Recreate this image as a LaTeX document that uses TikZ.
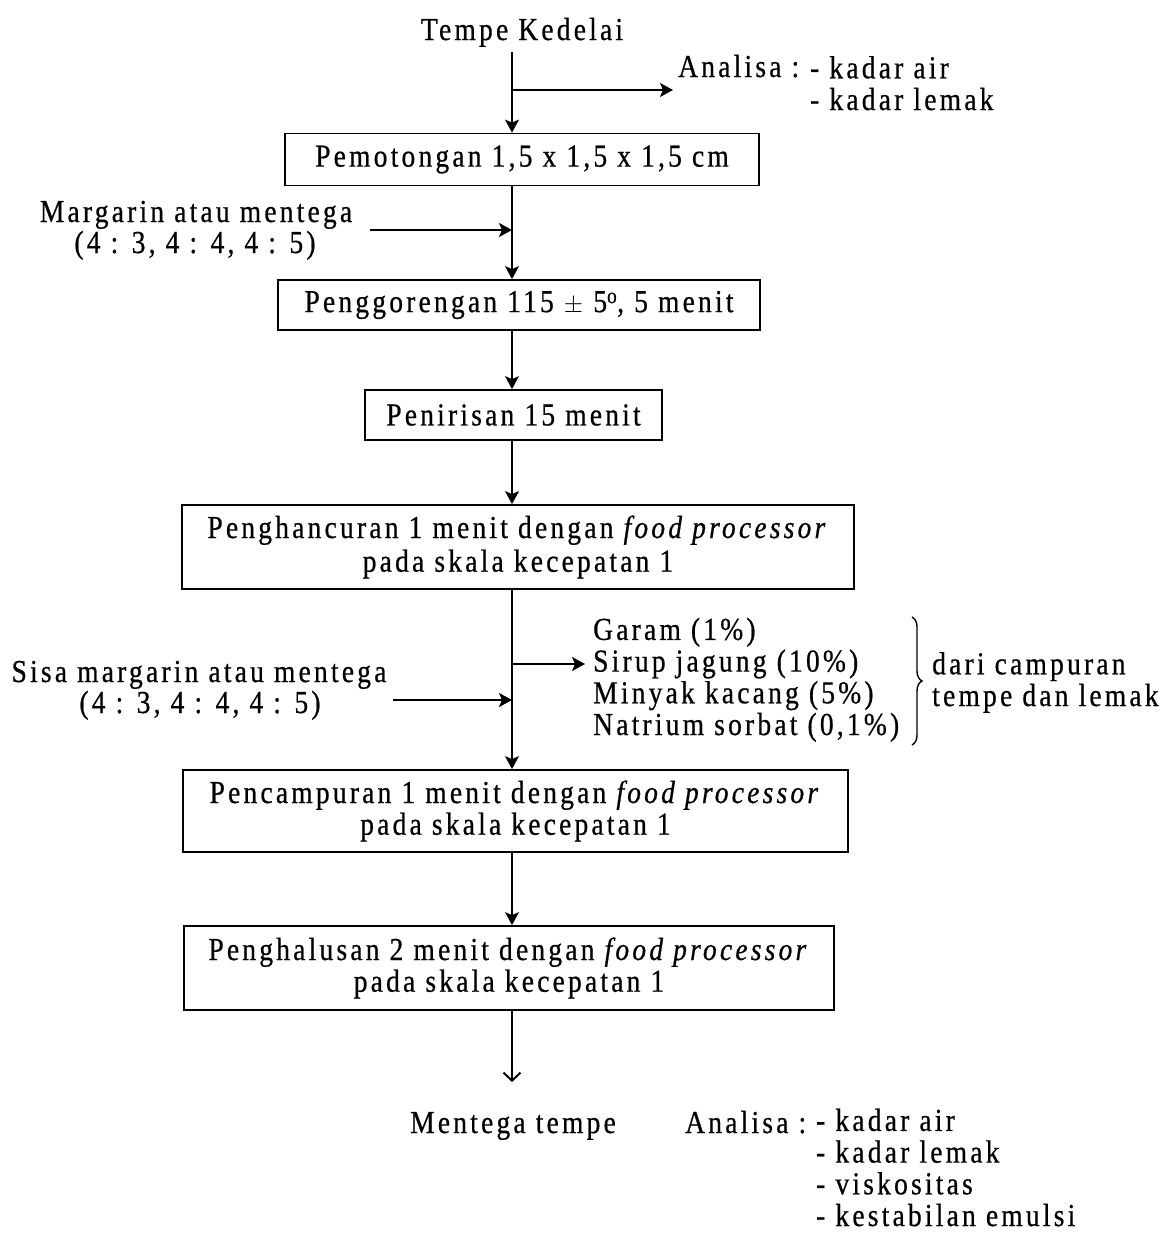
\documentclass[tikz,border=0pt]{standalone}
\usepackage{fontspec}
\setmainfont{Liberation Serif}[FakeStretch=0.86,LetterSpace=10,FakeBold=0.6]
\usetikzlibrary{arrows.meta,decorations.pathreplacing}
\begin{document}
\begin{tikzpicture}[x=1pt,y=-1pt,
  every node/.style={font=\fontsize{32}{31.7}\selectfont, inner sep=0pt},
  box/.style={draw, line width=1.8pt, align=center},
  txt/.style={anchor=base west, align=left},
  arr/.style={line width=1.5pt, -{Stealth[length=13pt,width=14pt,inset=3pt]}},
  endarr/.style={line width=1.5pt, -{Straight Barb[length=8pt,width=17pt,line width=2pt]}},
  ln/.style={line width=1.5pt}]
\useasboundingbox (0,0) rectangle (1171,1234);
% top
\node[anchor=base] (n0) at (522,40) {Tempe Kedelai};
\coordinate (t0) at (512,52);
\coordinate (br1) at (512,90);
\coordinate (br1e) at (673,90);
\node[txt] (an1) at (678,77) {Analisa :};
\node[txt] (an1l) at (810,110) {- kadar air\\- kadar lemak};
% boxes
\node[box, minimum width=474pt, minimum height=52pt] (b1) at (522,159.5) {Pemotongan 1,5 x 1,5 x 1,5 cm};
\node[box, minimum width=482pt, minimum height=50pt] (b2) at (519,305) {Penggorengan 115 $\pm$ 5\textsuperscript{o}, 5 menit};
\node[box, minimum width=297pt, minimum height=50pt] (b3) at (513.5,415) {Penirisan 15 menit};
\node[box, minimum width=672pt, minimum height=84pt] (b4) at (518,547) {Penghancuran 1 menit dengan \textit{food processor}\\[2pt]pada skala kecepatan 1};
\node[box, minimum width=665pt, minimum height=82pt] (b5) at (515.5,811) {Pencampuran 1 menit dengan \textit{food processor}\\pada skala kecepatan 1};
\node[box, minimum width=650pt, minimum height=84pt] (b6) at (509,968) {Penghalusan 2 menit dengan \textit{food processor}\\pada skala kecepatan 1};
% side inputs
\node[anchor=base] (m1a) at (196,222) {Margarin atau mentega};
\node[anchor=base] (m1b) at (195,253) {(4 : 3, 4 : 4, 4 : 5)};
\coordinate (m1s) at (370,230);
\node[anchor=base] (s1a) at (199,682) {Sisa margarin atau mentega};
\node[anchor=base] (s1b) at (200,713) {(4 : 3, 4 : 4, 4 : 5)};
\coordinate (s1s) at (393,700);
\coordinate (br2) at (512,664);
\coordinate (br2e) at (585,664);
\node[txt] (lst) at (593,735) {Garam (1\%)\\Sirup jagung (10\%)\\Minyak kacang (5\%)\\Natrium sorbat (0,1\%)};
\coordinate (bra) at (912,617);
\coordinate (brb) at (912,745);
\node[txt] (dari) at (932,706) {dari campuran\\tempe dan lemak};
% bottom
\coordinate (endp) at (512,1082);
\node[anchor=base] (mt) at (513,1133) {Mentega tempe};
\node[txt] (an2) at (685,1133) {Analisa :};
\node[txt] (an2l) at (816,1226) {- kadar air\\- kadar lemak\\- viskositas\\- kestabilan emulsi};
% connectors
\draw[arr] (t0) -- (t0 |- b1.north);
\draw[arr] (br1) -- (br1e);
\draw[arr] (t0 |- b1.south) -- (t0 |- b2.north);
\draw[arr] (m1s) -- (m1s -| t0);
\draw[arr] (t0 |- b2.south) -- (t0 |- b3.north);
\draw[arr] (t0 |- b3.south) -- (t0 |- b4.north);
\draw[arr] (t0 |- b4.south) -- (t0 |- b5.north);
\draw[arr] (br2) -- (br2e);
\draw[arr] (s1s) -- (s1s -| t0);
\draw[arr] (t0 |- b5.south) -- (t0 |- b6.north);
\draw[endarr] (t0 |- b6.south) -- (endp);
\draw[line width=1.4pt, decorate, decoration={brace, amplitude=10pt}] (bra) -- (brb);
\end{tikzpicture}
\end{document}
